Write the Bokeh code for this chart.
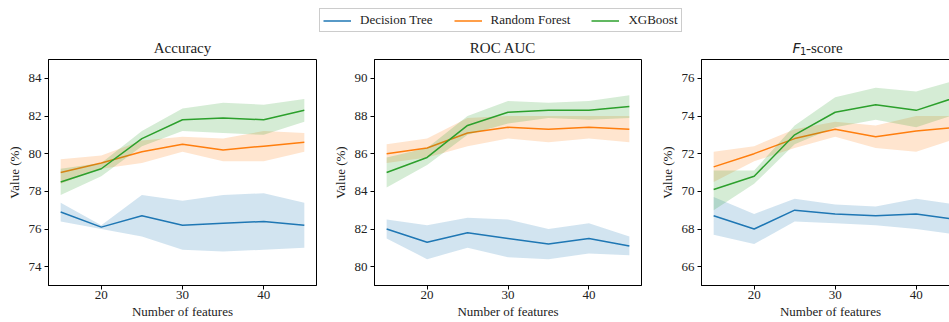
from bokeh.plotting import figure
from bokeh.models import Range1d, FixedTicker, Legend, LegendItem
from bokeh.layouts import column, row
from bokeh.core.properties import value
from bokeh.embed import file_html
from bokeh.resources import INLINE

features = [15, 20, 25, 30, 35, 40, 45]
models = ["Decision Tree", "Random Forest", "XGBoost"]
colors = ["#1f77b4", "#ff7f0e", "#2ca02c"]
titles = ["Accuracy", "ROC AUC"]

# Accuracy
acc_dt = [76.9, 76.1, 76.7, 76.2, 76.3, 76.4, 76.2]
acc_dt_hi = [77.4, 76.2, 77.8, 77.5, 77.8, 77.9, 77.4]
acc_dt_lo = [76.4, 76.0, 75.6, 74.9, 74.8, 74.9, 75.0]
acc_rf = [79.0, 79.5, 80.1, 80.5, 80.2, 80.4, 80.6]
acc_rf_hi = [79.7, 79.9, 80.7, 80.9, 80.8, 81.2, 81.1]
acc_rf_lo = [78.4, 79.2, 79.5, 80.1, 79.6, 79.6, 80.1]
acc_xgb = [78.5, 79.2, 80.8, 81.8, 81.9, 81.8, 82.3]
acc_xgb_hi = [79.2, 79.5, 81.2, 82.4, 82.7, 82.6, 82.9]
acc_xgb_lo = [77.8, 78.8, 80.4, 81.2, 81.1, 81.0, 81.7]

# ROC AUC
auc_dt = [82.0, 81.3, 81.8, 81.5, 81.2, 81.5, 81.1]
auc_dt_hi = [82.5, 82.2, 82.6, 82.5, 82.0, 82.3, 81.6]
auc_dt_lo = [81.5, 80.4, 81.0, 80.5, 80.4, 80.7, 80.6]
auc_rf = [86.0, 86.3, 87.1, 87.4, 87.3, 87.4, 87.3]
auc_rf_hi = [86.5, 86.8, 87.9, 88.0, 88.0, 88.0, 88.0]
auc_rf_lo = [85.5, 85.8, 86.4, 86.8, 86.6, 86.8, 86.6]
auc_xgb = [85.0, 85.8, 87.5, 88.2, 88.3, 88.3, 88.5]
auc_xgb_hi = [85.8, 86.3, 88.0, 88.8, 88.7, 88.8, 89.1]
auc_xgb_lo = [84.2, 85.4, 87.0, 87.6, 87.9, 87.8, 87.9]

# F1-score
f1_dt = [68.7, 68.0, 69.0, 68.8, 68.7, 68.8, 68.5]
f1_dt_hi = [69.7, 68.8, 69.6, 69.3, 69.2, 69.6, 69.3]
f1_dt_lo = [67.7, 67.2, 68.4, 68.3, 68.2, 68.0, 67.7]
f1_rf = [71.3, 72.0, 72.8, 73.3, 72.9, 73.2, 73.4]
f1_rf_hi = [72.1, 72.4, 73.3, 73.7, 73.5, 74.0, 74.0]
f1_rf_lo = [70.5, 71.6, 72.3, 72.9, 72.3, 72.1, 72.8]
f1_xgb = [70.1, 70.8, 73.0, 74.2, 74.6, 74.3, 75.0]
f1_xgb_hi = [71.1, 71.1, 73.5, 75.0, 75.5, 75.3, 75.9]
f1_xgb_lo = [69.0, 70.4, 72.5, 73.4, 73.8, 73.4, 74.1]

x_ticks = [20, 30, 40]
acc_ticks = [74, 76, 78, 80, 82, 84]
auc_ticks = [80, 82, 84, 86, 88, 90]
f1_ticks = [66, 68, 70, 72, 74, 76]

SERIF = "Liberation Serif"
FS = "13px"
TXT = "#222222"
FH = 226
HEAD_H = 57


def make_panel(series, yr, yticks, xr, frame_w, left, right):
    p = figure(frame_width=frame_w, frame_height=FH,
               x_range=Range1d(*xr), y_range=Range1d(*yr),
               min_border_left=left, min_border_right=right,
               min_border_top=2, min_border_bottom=37,
               toolbar_location=None, output_backend="svg")
    p.grid.visible = False
    p.outline_line_color = "black"
    p.outline_line_alpha = 1
    p.outline_line_width = 1
    for (m, lo, hi), c in zip(series, colors):
        p.line(features, m, line_color=c, line_width=1.5)
        p.varea(x=features, y1=lo, y2=hi, fill_color=c, fill_alpha=0.2)
    xa = p.below[0]
    ya = p.left[0]
    for ax in (xa, ya):
        ax.axis_line_color = "black"
        ax.major_tick_line_color = "black"
        ax.minor_tick_line_color = None
        ax.major_tick_out = 4
        ax.major_tick_in = 0
        ax.major_label_text_font = SERIF
        ax.major_label_text_font_size = FS
        ax.major_label_text_color = TXT
        ax.axis_label_text_font = SERIF
        ax.axis_label_text_font_size = FS
        ax.axis_label_text_font_style = "normal"
        ax.axis_label_text_color = TXT
    xa.ticker = FixedTicker(ticks=x_ticks)
    ya.ticker = FixedTicker(ticks=yticks)
    xa.major_label_standoff = 1
    xa.axis_label_standoff = 2
    ya.major_label_standoff = 3
    ya.axis_label_standoff = 4
    xa.axis_label = "Number of features"
    ya.axis_label = "Value (%)"
    return p


p1 = make_panel([(acc_dt, acc_dt_lo, acc_dt_hi), (acc_rf, acc_rf_lo, acc_rf_hi),
                 (acc_xgb, acc_xgb_lo, acc_xgb_hi)],
                (73, 85), acc_ticks, (13.5, 46.5), 268, 48, 13)
p2 = make_panel([(auc_dt, auc_dt_lo, auc_dt_hi), (auc_rf, auc_rf_lo, auc_rf_hi),
                 (auc_xgb, auc_xgb_lo, auc_xgb_hi)],
                (79, 91), auc_ticks, (13.5, 46.5), 267, 40, 15)
p3 = make_panel([(f1_dt, f1_dt_lo, f1_dt_hi), (f1_rf, f1_rf_lo, f1_rf_hi),
                 (f1_xgb, f1_xgb_lo, f1_xgb_hi)],
                (65, 77), f1_ticks, (13.5, 45.35), 258, 40, 0)

# header strip: legend + panel titles
hd = figure(width=949, height=HEAD_H, x_range=Range1d(0, 949), y_range=Range1d(0, HEAD_H),
            x_axis_location=None, y_axis_location=None, min_border=0,
            toolbar_location=None, output_backend="svg")
hd.grid.visible = False
hd.outline_line_color = None
rs = [hd.line(x=[-20, -10], y=[-20, -20], line_color=c, line_width=1.5) for c in colors]
leg = Legend(items=[LegendItem(label=m, renderers=[r]) for m, r in zip(models, rs)],
             location=(319, 25), orientation="horizontal",
             border_line_color="#cccccc", border_line_width=1, border_line_alpha=1,
             padding=3, spacing=21, glyph_width=28, glyph_height=13, label_height=13,
             label_standoff=9, label_text_font=SERIF, label_text_font_size=FS,
             label_text_color=TXT, margin=0)
hd.add_layout(leg)

title_y = 10
hd.text(x=[182, 502.5], y=[title_y, title_y], text=titles, text_font=value(SERIF),
        text_font_size="15px", text_align="center", text_baseline="middle", text_color=TXT)
hd.text(x=[792], y=[title_y], text=["F"], text_font=value("DejaVu Sans"),
        text_font_style="italic", text_font_size="14px", text_align="left",
        text_baseline="middle", text_color=TXT)
hd.text(x=[799.5], y=[title_y - 3], text=["1"], text_font=value("DejaVu Sans"),
        text_font_size="10px", text_align="left", text_baseline="middle", text_color=TXT)
hd.text(x=[805.5], y=[title_y], text=["-score"], text_font=value(SERIF),
        text_font_size="15px", text_align="left", text_baseline="middle", text_color=TXT)

layout = column(hd, row(p1, p2, p3, spacing=0), spacing=0)
open("out.html", "w").write(file_html(layout, INLINE))
